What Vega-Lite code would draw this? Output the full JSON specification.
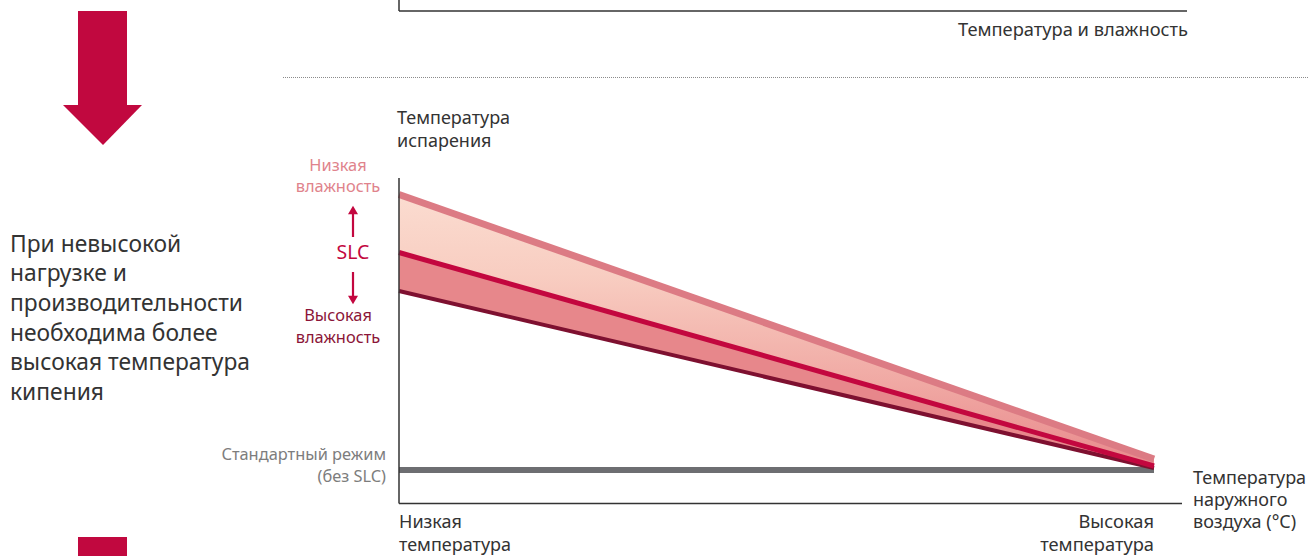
{
  "$schema": "https://vega.github.io/schema/vega-lite/v6.json",
  "width": 1309,
  "height": 556,
  "padding": 0,
  "autosize": {"type": "none"},
  "background": "#ffffff",
  "config": {
    "view": {"stroke": null},
    "axis": {"disable": true},
    "text": {"font": "Noto Sans"}
  },
  "datasets": {
    "curves": [
      {"t": 0, "upper": 95.077, "middle": 77.231, "lower": 65.385, "standard": 10.308},
      {"t": 1, "upper": 13.692, "middle": 11.538, "lower": 10.923, "standard": 10.308}
    ],
    "rules": [
      {"kind": "axis", "x": 0, "x2": 0, "y": 100.154, "y2": 0},
      {"kind": "axis", "x": 0, "x2": 1.03709, "y": 0, "y2": 0},
      {"kind": "axis", "x": 0, "x2": 0, "y": 154.923, "y2": 151.538},
      {"kind": "axis", "x": 0, "x2": 1.04371, "y": 151.538, "y2": 151.538},
      {"kind": "dotted", "x": -0.15364, "x2": 1.2053, "y": 131.077, "y2": 131.077},
      {"kind": "arrow", "x": -0.06093, "x2": -0.06093, "y": 82.0, "y2": 89.4},
      {"kind": "arrow", "x": -0.06093, "x2": -0.06093, "y": 71.23, "y2": 63.6}
    ],
    "heads": [
      {"dir": "up", "t": -0.06093, "v": 90.3},
      {"dir": "down", "t": -0.06093, "v": 62.62}
    ],
    "blocks": [
      {"x": -0.42517, "x2": -0.36026, "y": 151.538, "y2": 122.4},
      {"x": -0.42517, "x2": -0.36026, "y": -10.308, "y2": -16.154}
    ],
    "arrowhead": [
      {"v": 122.615, "a": -0.44503, "b": -0.3404},
      {"v": 110.308, "a": -0.39205, "b": -0.39205}
    ],
    "texts": [
      {"role": "para", "t": -0.51523, "v": 79.538, "text": "При невысокой"},
      {"role": "para", "t": -0.51523, "v": 70.615, "text": "нагрузке и"},
      {"role": "para", "t": -0.51523, "v": 61.385, "text": "производительности"},
      {"role": "para", "t": -0.51523, "v": 52.154, "text": "необходима более"},
      {"role": "para", "t": -0.51523, "v": 43.231, "text": "высокая температура"},
      {"role": "para", "t": -0.51523, "v": 34.0, "text": "кипения"},
      {"role": "left", "t": -0.00265, "v": 118.308, "text": "Температура"},
      {"role": "left", "t": -0.00265, "v": 111.231, "text": "испарения"},
      {"role": "left", "t": 0, "v": -6.0, "text": "Низкая"},
      {"role": "left", "t": 0, "v": -13.077, "text": "температура"},
      {"role": "left", "t": 1.05166, "v": 7.538, "text": "Температура"},
      {"role": "left", "t": 1.05166, "v": 0.769, "text": "наружного"},
      {"role": "left", "t": 1.05166, "v": -6.0, "text": "воздуха (°C)"},
      {"role": "right", "t": 1.0, "v": -6.0, "text": "Высокая"},
      {"role": "right", "t": 1.0, "v": -13.077, "text": "температура"},
      {"role": "right", "t": 1.04503, "v": 145.385, "text": "Температура и влажность"},
      {"role": "humlow", "t": -0.08079, "v": 103.846, "text": "Низкая"},
      {"role": "humlow", "t": -0.08079, "v": 97.385, "text": "влажность"},
      {"role": "slc", "t": -0.06093, "v": 77.077, "text": "SLC"},
      {"role": "humhigh", "t": -0.08079, "v": 57.692, "text": "Высокая"},
      {"role": "humhigh", "t": -0.08079, "v": 50.923, "text": "влажность"},
      {"role": "std", "t": -0.01722, "v": 14.923, "text": "Стандартный режим"},
      {"role": "std", "t": -0.01722, "v": 8.154, "text": "(без SLC)"}
    ]
  },
  "layer": [
    {
      "data": {"name": "blocks"},
      "mark": {"type": "rect", "color": "#c1083f"},
      "encoding": {
        "x": {"field": "x", "type": "quantitative", "scale": {"domain": [-0.52848, 1.2053], "nice": false, "zero": false}},
        "x2": {"field": "x2"},
        "y": {"field": "y", "type": "quantitative", "scale": {"domain": [-16.154, 154.923], "nice": false, "zero": false}},
        "y2": {"field": "y2"}
      }
    },
    {
      "data": {"name": "arrowhead"},
      "mark": {"type": "area", "orient": "horizontal", "color": "#c1083f"},
      "encoding": {
        "y": {"field": "v", "type": "quantitative"},
        "x": {"field": "a", "type": "quantitative"},
        "x2": {"field": "b"}
      }
    },
    {
      "data": {"name": "rules"},
      "transform": [{"filter": "datum.kind === 'dotted'"}],
      "mark": {"type": "rule", "color": "#8a8a8a", "strokeWidth": 1, "strokeDash": [1, 1]},
      "encoding": {
        "x": {"field": "x", "type": "quantitative"},
        "x2": {"field": "x2"},
        "y": {"field": "y", "type": "quantitative"},
        "y2": {"field": "y2"}
      }
    },
    {
      "data": {"name": "curves"},
      "mark": {"type": "line", "color": "#6d6e71", "strokeWidth": 6, "strokeCap": "butt"},
      "encoding": {
        "x": {"field": "t", "type": "quantitative"},
        "y": {"field": "standard", "type": "quantitative"}
      }
    },
    {
      "data": {"name": "curves"},
      "mark": {"type": "area", "fill": "#e7878b"},
      "encoding": {
        "x": {"field": "t", "type": "quantitative"},
        "y": {"field": "middle", "type": "quantitative"},
        "y2": {"field": "lower"}
      }
    },
    {
      "data": {"name": "curves"},
      "mark": {
        "type": "area",
        "fill": {
          "gradient": "linear", "x1": 0, "y1": 0, "x2": 0, "y2": 1,
          "stops": [
            {"offset": 0, "color": "#fbdcd0"},
            {"offset": 0.3, "color": "#f8cdc1"},
            {"offset": 0.7, "color": "#f0a8a3"},
            {"offset": 1, "color": "#e8898c"}
          ]
        }
      },
      "encoding": {
        "x": {"field": "t", "type": "quantitative"},
        "y": {"field": "upper", "type": "quantitative"},
        "y2": {"field": "middle"}
      }
    },
    {
      "data": {"name": "curves"},
      "mark": {"type": "line", "color": "#7e1030", "strokeWidth": 4, "strokeCap": "butt"},
      "encoding": {
        "x": {"field": "t", "type": "quantitative"},
        "y": {"field": "lower", "type": "quantitative"}
      }
    },
    {
      "data": {"name": "curves"},
      "mark": {"type": "line", "color": "#dc7b84", "strokeWidth": 7, "strokeCap": "butt"},
      "encoding": {
        "x": {"field": "t", "type": "quantitative"},
        "y": {"field": "upper", "type": "quantitative"}
      }
    },
    {
      "data": {"name": "curves"},
      "mark": {"type": "line", "color": "#c3073f", "strokeWidth": 5, "strokeCap": "butt"},
      "encoding": {
        "x": {"field": "t", "type": "quantitative"},
        "y": {"field": "middle", "type": "quantitative"}
      }
    },
    {
      "data": {"name": "rules"},
      "transform": [{"filter": "datum.kind === 'axis'"}],
      "mark": {"type": "rule", "color": "#333333", "strokeWidth": 1.5},
      "encoding": {
        "x": {"field": "x", "type": "quantitative"},
        "x2": {"field": "x2"},
        "y": {"field": "y", "type": "quantitative"},
        "y2": {"field": "y2"}
      }
    },
    {
      "data": {"name": "rules"},
      "transform": [{"filter": "datum.kind === 'arrow'"}],
      "mark": {"type": "rule", "color": "#c3073f", "strokeWidth": 2.2},
      "encoding": {
        "x": {"field": "x", "type": "quantitative"},
        "x2": {"field": "x2"},
        "y": {"field": "y", "type": "quantitative"},
        "y2": {"field": "y2"}
      }
    },
    {
      "data": {"name": "heads"},
      "transform": [{"filter": "datum.dir === 'up'"}],
      "mark": {"type": "point", "shape": "triangle-up", "filled": true, "color": "#c3073f", "size": 100, "opacity": 1},
      "encoding": {
        "x": {"field": "t", "type": "quantitative"},
        "y": {"field": "v", "type": "quantitative"}
      }
    },
    {
      "data": {"name": "heads"},
      "transform": [{"filter": "datum.dir === 'down'"}],
      "mark": {"type": "point", "shape": "triangle-down", "filled": true, "color": "#c3073f", "size": 100, "opacity": 1},
      "encoding": {
        "x": {"field": "t", "type": "quantitative"},
        "y": {"field": "v", "type": "quantitative"}
      }
    },
    {
      "data": {"name": "texts"},
      "transform": [{"filter": "datum.role === 'para'"}],
      "mark": {"type": "text", "align": "left", "baseline": "middle", "fontSize": 22.8, "color": "#333333"},
      "encoding": {
        "x": {"field": "t", "type": "quantitative"},
        "y": {"field": "v", "type": "quantitative"},
        "text": {"field": "text"}
      }
    },
    {
      "data": {"name": "texts"},
      "transform": [{"filter": "datum.role === 'left'"}],
      "mark": {"type": "text", "align": "left", "baseline": "middle", "fontSize": 18, "color": "#333333"},
      "encoding": {
        "x": {"field": "t", "type": "quantitative"},
        "y": {"field": "v", "type": "quantitative"},
        "text": {"field": "text"}
      }
    },
    {
      "data": {"name": "texts"},
      "transform": [{"filter": "datum.role === 'right'"}],
      "mark": {"type": "text", "align": "right", "baseline": "middle", "fontSize": 18.3, "color": "#333333"},
      "encoding": {
        "x": {"field": "t", "type": "quantitative"},
        "y": {"field": "v", "type": "quantitative"},
        "text": {"field": "text"}
      }
    },
    {
      "data": {"name": "texts"},
      "transform": [{"filter": "datum.role === 'humlow'"}],
      "mark": {"type": "text", "align": "center", "baseline": "middle", "fontSize": 16.4, "color": "#e0838c"},
      "encoding": {
        "x": {"field": "t", "type": "quantitative"},
        "y": {"field": "v", "type": "quantitative"},
        "text": {"field": "text"}
      }
    },
    {
      "data": {"name": "texts"},
      "transform": [{"filter": "datum.role === 'slc'"}],
      "mark": {"type": "text", "align": "center", "baseline": "middle", "fontSize": 19.5, "color": "#c3073f"},
      "encoding": {
        "x": {"field": "t", "type": "quantitative"},
        "y": {"field": "v", "type": "quantitative"},
        "text": {"field": "text"}
      }
    },
    {
      "data": {"name": "texts"},
      "transform": [{"filter": "datum.role === 'humhigh'"}],
      "mark": {"type": "text", "align": "center", "baseline": "middle", "fontSize": 16.4, "color": "#8b1538"},
      "encoding": {
        "x": {"field": "t", "type": "quantitative"},
        "y": {"field": "v", "type": "quantitative"},
        "text": {"field": "text"}
      }
    },
    {
      "data": {"name": "texts"},
      "transform": [{"filter": "datum.role === 'std'"}],
      "mark": {"type": "text", "align": "right", "baseline": "middle", "fontSize": 16.4, "color": "#7d7d7d"},
      "encoding": {
        "x": {"field": "t", "type": "quantitative"},
        "y": {"field": "v", "type": "quantitative"},
        "text": {"field": "text"}
      }
    }
  ]
}
